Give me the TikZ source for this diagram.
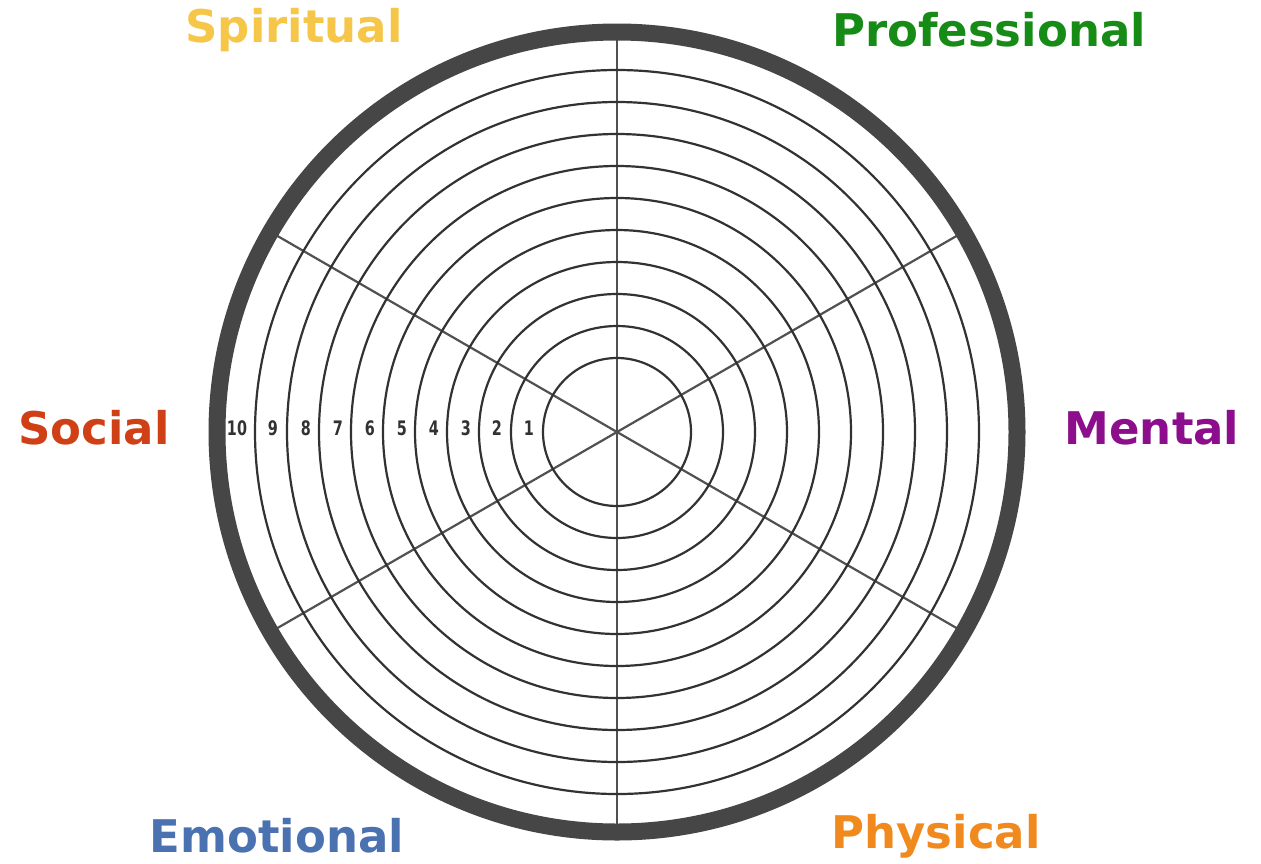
\documentclass[tikz,border=0pt]{standalone}
\usepackage{fontspec}
\usetikzlibrary{calc}
\setmainfont{DejaVu Sans}
\newfontfamily\numfont{DejaVu Sans Condensed}
\definecolor{cSpir}{RGB}{245,198,72}
\definecolor{cProf}{RGB}{22,140,22}
\definecolor{cSoc}{RGB}{208,64,22}
\definecolor{cMent}{RGB}{140,14,140}
\definecolor{cEmo}{RGB}{74,114,176}
\definecolor{cPhys}{RGB}{240,138,30}
\definecolor{ring}{RGB}{50,50,50}
\definecolor{rim}{RGB}{70,70,70}
\begin{document}
\begin{tikzpicture}[x=1pt,y=-1pt,
  cat/.style={font=\fontsize{45}{45}\selectfont\bfseries, inner sep=0pt},
  num/.style={font=\numfont\bfseries\fontsize{16}{16}\selectfont, text=ring, inner sep=0pt, yscale=1.25},
  thinring/.style={draw=ring, line width=2.2pt},
  spoke/.style={draw=ring!85, line width=2.2pt}]
\useasboundingbox (0,0) rectangle (1261,863);
\fill[white] (0,0) rectangle (1261,863);
\coordinate (c) at (617,432);
% spokes
\foreach \a in {90,30,150} {
  \draw[spoke] ($(c)+(\a:400)$) -- ($(c)+(\a+180:400)$);
}
% rings
\foreach \r in {74,106,138,170,202,234,266,298,330,362} {
  \draw[thinring] (c) circle[radius=\r];
}
\draw[draw=rim, line width=17pt] (c) circle[radius=400];
% numbers
\foreach \n/\x in {10/237,9/273,8/306,7/338,6/370,5/402,4/434,3/466,2/497,1/529} {
  \node[num] (n\n) at (\x,428) {\n};
}
% category labels
\node[cat, text=cSpir] (spir) at (294,30) {Spiritual};
\node[cat, text=cProf] (prof) at (989,30) {Professional};
\node[cat, text=cSoc] (soc) at (94,428) {Social};
\node[cat, text=cMent] (ment) at (1152,428) {Mental};
\node[cat, text=cEmo] (emo) at (277,836) {Emotional};
\node[cat, text=cPhys] (phys) at (936,836) {Physical};
\end{tikzpicture}
\end{document}
